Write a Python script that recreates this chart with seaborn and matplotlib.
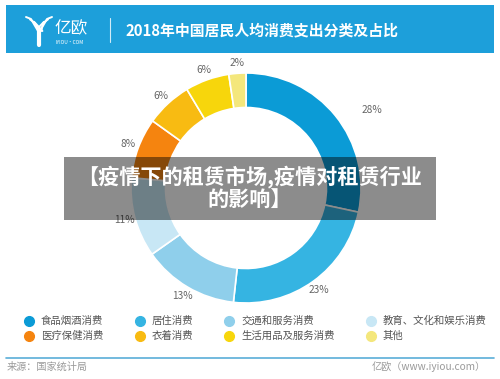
import numpy as np
import seaborn as sns
import matplotlib.pyplot as plt
from matplotlib.patches import Rectangle
from matplotlib.lines import Line2D

# data (slice sizes estimated from the ring, labels as printed)
categories = ["食品烟酒消费", "居住消费", "交通和服务消费", "教育、文化和娱乐消费",
              "医疗保健消费", "衣着消费", "生活用品及服务消费", "其他"]
shares = [28.4, 23.4, 13.5, 11.2, 8.5, 6.5, 6.2, 2.4]
pct_labels = ["28%", "23%", "13%", "11%", "8%", "6%", "6%", "2%"]
colors = ["#0b9bd6", "#35b4e2", "#8fcfeb", "#c8e7f5",
          "#f5840f", "#f8bb12", "#f7d60c", "#f4e77c"]

title = "2018年中国居民人均消费支出分类及占比"
overlay_lines = ["【疫情下的租赁市场,疫情对租赁行业", "的影响】"]
source = "来源：国家统计局"
credit = "亿欧（www.iyiou.com）"

sns.set_theme(style="white")
plt.rcParams["font.family"] = ["Noto Sans CJK SC", "DejaVu Sans"]

W, H = 500, 379
fig = plt.figure(figsize=(W / 100, H / 100), dpi=100)
fig.patch.set_facecolor("white")

# background layer in pixel coordinates
bg = fig.add_axes([0, 0, 1, 1], zorder=0)
bg.set_xlim(0, W)
bg.set_ylim(H, 0)
bg.axis("off")

bg.add_patch(Rectangle((6, 5), 488, 48, color="#1d9fda", lw=0))
# logo (rough)
for dx in (0, 4, 8):
    bg.plot([26 + dx, 31 + dx, 38 + dx * 0.3], [17 + dx * 0.6, 19 + dx, 31], color="white", lw=1.4,
            solid_capstyle="round")
    bg.plot([52 - dx, 47 - dx, 40 + dx * 0.3], [17 + dx * 0.6, 19 + dx, 31], color="white", lw=1.4,
            solid_capstyle="round")
bg.plot([39, 39], [30, 45], color="white", lw=3)
bg.text(54, 29, "亿欧", color="white", fontsize=12, va="center", ha="left")
bg.text(55, 42, "IYIOU·COM", color="white", fontsize=3.5, va="center", ha="left")
bg.plot([110, 110], [18, 42], color="white", lw=0.8, alpha=0.8)
bg.text(126, 30, title, color="white", fontsize=10.7, fontweight="bold", va="center", ha="left")

# legend
legend_x = [29, 140, 229, 371]
legend_y = [321, 336]
for i, (name, c) in enumerate(zip(categories, colors)):
    x = legend_x[i % 4]
    y = legend_y[i // 4]
    bg.add_line(Line2D([x], [y], marker="o", markersize=7, color=c, lw=0))
    bg.text(x + 12, y, name, fontsize=7.5, color="#555555", va="center", ha="left")

# footer
bg.plot([6, 494], [358, 358], color="#5aaed8", lw=1.2)
bg.text(7, 367, source, fontsize=7.3, color="#9a9a9a", va="center", ha="left")
bg.text(486, 367, credit, fontsize=7.3, color="#9a9a9a", va="center", ha="right")

# donut
r_px = 115
cx, cy = 246, 188
half = 1.4 * r_px
ax = fig.add_axes([(cx - half) / W, (H - cy - half) / H, 2 * half / W, 2 * half / H], zorder=1)
ax.patch.set_alpha(0)
wedges, texts = ax.pie(shares, colors=colors, startangle=90, counterclock=False, radius=1,
                       labels=pct_labels, labeldistance=1.09,
                       textprops=dict(fontsize=7.3, color="#666666"),
                       wedgeprops=dict(width=0.3, edgecolor="white", linewidth=1.2))
for w, t in zip(wedges, texts):
    t.set_ha("center")
    t.set_va("center")
# first label sits further out and lower in the reference
mid = np.deg2rad((wedges[0].theta1 + wedges[0].theta2) / 2 - 7)
texts[0].set_position((1.29 * np.cos(mid), 1.29 * np.sin(mid)))
ax.set_xlim(-1.4, 1.4)
ax.set_ylim(-1.4, 1.4)
ax.set_aspect("equal")
ax.axis("off")

# translucent overlay with headline
top = fig.add_axes([0, 0, 1, 1], zorder=2)
top.patch.set_alpha(0)
top.set_xlim(0, W)
top.set_ylim(H, 0)
top.axis("off")
top.add_patch(Rectangle((64, 157), 372, 63, color="black", alpha=0.45, lw=0))
top.text(250, 177, overlay_lines[0], color="white", fontsize=15.2, fontweight="bold",
         va="center", ha="center")
top.text(250, 200, overlay_lines[1], color="white", fontsize=15.2, fontweight="bold",
         va="center", ha="center")

fig.savefig("out.png", dpi=100)
